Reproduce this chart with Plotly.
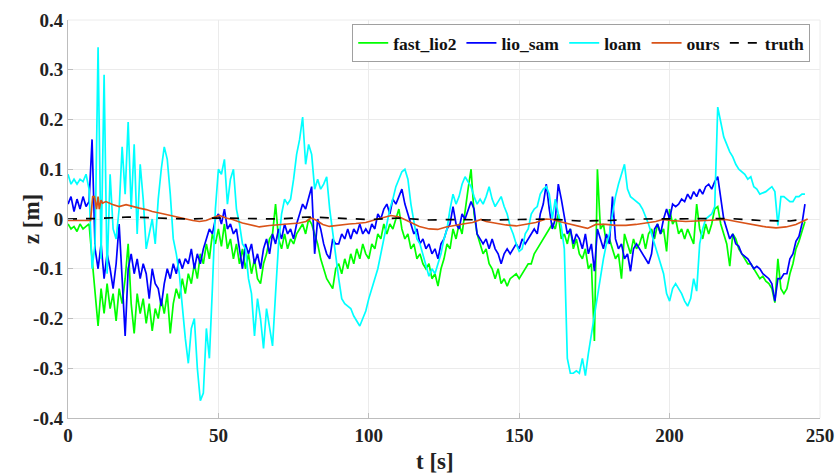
import numpy as np
import plotly.graph_objects as go

# time grid (s) for the noisy estimators: one sample per second
t_est = list(range(0, 246))

fast_lio2 = [
    -0.01, -0.02, -0.015, -0.025, -0.01, -0.02, -0.015, -0.01, -0.08, -0.15,
    -0.215, -0.14, -0.19, -0.13, -0.18, -0.15, -0.205, -0.14, -0.17, -0.12,
    -0.05, -0.17, -0.23, -0.15, -0.19, -0.16, -0.21, -0.17, -0.225, -0.18,
    -0.20, -0.16, -0.19, -0.15, -0.23, -0.17, -0.14, -0.16, -0.12, -0.15,
    -0.11, -0.13, -0.09, -0.12, -0.07, -0.09, -0.05, -0.08, -0.03, -0.05,
    -0.02, -0.055, -0.01, -0.06, -0.04, -0.08, -0.05, -0.09, -0.06, -0.10,
    -0.07, -0.11, -0.08, -0.12, -0.13, -0.09, -0.07, -0.04, -0.03, 0.03,
    -0.04, -0.06, -0.03, -0.06, -0.04, -0.05, -0.03, -0.02, -0.01, -0.03,
    0.0, -0.01, -0.03, -0.05, -0.08, -0.10, -0.12, -0.13, -0.14, -0.10,
    -0.09, -0.11, -0.08, -0.10, -0.07, -0.09, -0.06, -0.08, -0.05, -0.07,
    -0.08, -0.05, -0.06, -0.03, -0.04, -0.01, -0.03, -0.01, -0.02, 0.0,
    0.02, -0.02, -0.04, -0.03, -0.06, -0.05, -0.08, -0.07, -0.09, -0.10,
    -0.09, -0.12, -0.11, -0.135, -0.10, -0.08, -0.05, -0.06, -0.02, -0.04,
    -0.01, -0.03, 0.02, 0.06, 0.10, 0.01, -0.03, -0.05, -0.07, -0.06,
    -0.09, -0.10, -0.12, -0.10, -0.13, -0.12, -0.135, -0.12, -0.115, -0.11,
    -0.12, -0.11, -0.10, -0.09, -0.09, -0.07, -0.06, -0.05, -0.04, -0.03,
    -0.02, -0.01, -0.02, 0.01, -0.04, -0.03, -0.05, -0.02, -0.06, -0.04,
    -0.07, -0.08, -0.06, -0.10, -0.09, -0.245, 0.10, -0.02, -0.01, -0.05,
    -0.04, -0.06, -0.08, -0.07, -0.12, -0.03, -0.05, -0.07, -0.04, -0.06,
    -0.05, -0.03, -0.06, -0.03, -0.02, -0.04, -0.01, -0.03, -0.02, -0.065,
    0.02, -0.01, 0.0, -0.03, -0.02, -0.04, -0.02, -0.035, -0.05, 0.03,
    -0.02, -0.04, -0.01, -0.03, -0.01, 0.02, 0.025, -0.01, -0.03, -0.05,
    -0.095, -0.03, -0.04, -0.06, -0.07, -0.08, -0.09, -0.09, -0.10, -0.11,
    -0.12, -0.115, -0.125, -0.13, -0.14, -0.168, -0.08, -0.14, -0.15, -0.14,
    -0.11, -0.09, -0.06, -0.045, -0.025, -0.005,
]

lio_sam = [
    0.03, 0.045, 0.015, 0.04, 0.02, 0.045, 0.025, 0.035, 0.16, -0.06,
    -0.10, -0.05, -0.12, -0.07, -0.10, -0.14, -0.09, -0.01, -0.12, -0.235,
    -0.10, -0.07, -0.11, -0.08, -0.12, -0.09, -0.11, -0.16, -0.10, -0.13,
    -0.14, -0.175, -0.13, -0.10, -0.12, -0.09, -0.11, -0.08, -0.10, -0.08,
    -0.09, -0.06, -0.10, -0.07, -0.09, -0.06, -0.04, -0.02, -0.03, 0.0,
    0.01, -0.01, 0.02, -0.02, -0.01, -0.03, -0.02, -0.06, -0.10, -0.05,
    -0.07, -0.05, -0.09, -0.07, -0.10, -0.06, -0.04, -0.07, -0.03, -0.05,
    -0.02, -0.04, -0.01, -0.03, -0.02, -0.04, -0.01, 0.01, 0.03, 0.02,
    0.045, 0.065, -0.07, 0.0, -0.02, -0.05, -0.07, -0.08, -0.04, -0.05,
    -0.05, -0.03, -0.04, -0.02, -0.04, -0.02, -0.03, -0.01, -0.03, -0.02,
    -0.03, -0.01, -0.02, 0.01, 0.0, 0.02, 0.03, 0.01, 0.04, 0.03,
    0.045, 0.06, 0.03, 0.01, -0.01, -0.03, -0.02, -0.05, -0.04, -0.06,
    -0.05, -0.07, -0.06, -0.08, -0.05, -0.04, -0.02, -0.01, 0.025, -0.01,
    -0.02, 0.01, 0.0, 0.02, 0.035, 0.02, -0.03, -0.04, -0.05, -0.04,
    -0.06, -0.04, -0.06, -0.07, -0.09, -0.07, -0.06, -0.07, -0.06, -0.05,
    -0.06, -0.04, -0.05, -0.04, -0.03, -0.02, -0.03, 0.01, 0.03, 0.07,
    0.02, -0.02, 0.0, 0.07, 0.04, 0.0, -0.03, -0.02, -0.05, -0.03,
    -0.04, -0.06, -0.03, -0.07, -0.05, -0.105, -0.02, -0.04, -0.06, -0.03,
    -0.05, 0.045, -0.04, -0.06, -0.05, -0.08, -0.07, -0.105, -0.06, -0.05,
    -0.06, -0.07, -0.08, -0.09, -0.07, -0.02, -0.01, -0.03, 0.0, 0.02,
    0.0, 0.03, 0.025, 0.03, 0.04, 0.035, 0.05, 0.04, 0.055, 0.045,
    0.06, 0.05, 0.065, 0.07, 0.06, 0.075, 0.085, 0.04, 0.0, -0.02,
    -0.04, -0.03, -0.05, -0.055, -0.07, -0.075, -0.08, -0.09, -0.10, -0.095,
    -0.10, -0.11, -0.115, -0.12, -0.13, -0.165, -0.12, -0.12, -0.11, -0.11,
    -0.08, -0.07, -0.045, -0.035, -0.01, 0.03,
]

loam = [
    0.09, 0.07, 0.08, 0.07, 0.08, 0.075, 0.09, 0.06, -0.10, -0.05,
    0.345, -0.08, 0.29, -0.11, 0.09, -0.02, -0.04, 0.02, 0.145, 0.05,
    0.195, 0.02, 0.15, -0.03, 0.11, 0.04, -0.06, -0.03, 0.0, -0.05,
    0.04, 0.10, 0.145, 0.12, 0.05, -0.04, -0.07, -0.11, -0.18, -0.24,
    -0.29, -0.22, -0.20, -0.30, -0.365, -0.35, -0.22, -0.28, -0.14, 0.02,
    0.10, 0.09, 0.12, 0.03, 0.08, 0.10, 0.02, -0.01, -0.05, -0.06,
    -0.12, -0.15, -0.235, -0.16, -0.20, -0.26, -0.18, -0.22, -0.255, -0.15,
    -0.05, 0.01, 0.04, 0.03, 0.04, 0.08, 0.13, 0.16, 0.205, 0.11,
    0.15, 0.13, 0.06, 0.08, 0.06, 0.07, 0.085, 0.02, -0.03, -0.07,
    -0.12, -0.16, -0.17, -0.175, -0.18, -0.195, -0.205, -0.215, -0.20, -0.185,
    -0.16, -0.14, -0.12, -0.10, -0.07, -0.04, -0.01, 0.02, 0.04, 0.065,
    0.08, 0.095, 0.10, 0.08, 0.03, -0.01, -0.04, -0.05, -0.07, -0.09,
    -0.115, -0.10, -0.11, -0.09, -0.07, -0.04, -0.02, 0.02, 0.05, 0.03,
    0.045, 0.07, 0.085, 0.075, 0.065, 0.045, 0.03, 0.04, 0.03, 0.045,
    0.065, 0.04, 0.025, 0.035, 0.045, 0.025, 0.01, -0.015, -0.03, -0.05,
    -0.065, -0.06, -0.03, -0.02, 0.01, 0.02, 0.025, 0.05, 0.06, 0.065,
    0.05, 0.0, 0.04, 0.01, -0.015, -0.06, -0.28, -0.31, -0.31, -0.305,
    -0.31, -0.28, -0.315, -0.27, -0.23, -0.19, -0.15, -0.12, -0.08, -0.05,
    -0.03, 0.01, 0.045, 0.07, 0.09, 0.11, 0.06, 0.045, 0.04, 0.035,
    0.03, 0.02, 0.005, -0.01, -0.03, -0.05, -0.07, -0.09, -0.11, -0.15,
    -0.165, -0.14, -0.13, -0.14, -0.15, -0.165, -0.175, -0.16, -0.12, -0.145,
    -0.05, -0.02, 0.0, 0.005, 0.01, 0.025, 0.225, 0.195, 0.165, 0.15,
    0.135, 0.125, 0.11, 0.10, 0.095, 0.09, 0.08, 0.085, 0.065, 0.06,
    0.05, 0.052, 0.055, 0.06, 0.065, 0.055, -0.013, 0.045, 0.045, 0.04,
    0.035, 0.035, 0.045, 0.045, 0.05, 0.05,
]

ours_t = [0, 7.5, 8.2, 8.8, 9.5, 10, 10.4, 11, 11.5, 12.6, 14.8, 17, 19.3, 21.5,
          23.7, 26, 28, 30.4, 32.6, 34.8, 37, 39.2, 41.5, 43.7, 45.9, 48, 50.3,
          52.5, 54.7, 58, 60.3, 63.6, 67, 70.3, 73.6, 76.9, 79.1, 80.8, 82.4,
          84.7, 86.9, 89.1, 91.3, 93.5, 95.7, 97.9, 99, 102.4, 105.7, 107.4,
          110.2, 113.5, 116.8, 120.1, 122.9, 125.7, 129, 132.3, 134.5, 137.3,
          139, 142.3, 145.6, 149, 152.2, 155.5, 158.9, 161.1, 163.3, 166.6,
          168.8, 171, 172.7, 175.5, 178.8, 182.1, 185.5, 188.8, 192.1, 195.4,
          197.7, 200.4, 205.4, 212.1, 215.4, 218.7, 222.1, 225.4, 228.7, 232,
          235.4, 238.7, 242, 244.2, 245.9]
ours = [-0.003, -0.003, 0.045, 0.045, 0.02, 0.045, 0.02, 0.038, 0.032, 0.035,
        0.029, 0.025, 0.029, 0.025, 0.022, 0.019, 0.015, 0.012, 0.009, 0.005,
        0.002, 0.0, -0.003, -0.005, -0.003, 0.002, 0.007, 0.002, -0.001, -0.008,
        -0.011, -0.016, -0.013, -0.011, -0.010, -0.008, -0.005, 0.002, -0.002,
        -0.011, -0.015, -0.013, -0.011, -0.010, -0.009, -0.008, -0.007, -0.001,
        0.004, 0.007, 0.004, -0.005, -0.015, -0.020, -0.021, -0.016, -0.012,
        -0.009, -0.007, -0.001, -0.005, -0.009, -0.012, -0.014, -0.011, -0.007,
        0.0, -0.001, -0.005, -0.010, -0.013, -0.016, -0.019, -0.011, -0.011,
        -0.013, -0.013, -0.011, -0.008, -0.005, -0.001, -0.003, -0.005, -0.003,
        -0.001, -0.001, -0.005, -0.009, -0.013, -0.016, -0.018, -0.016, -0.011,
        -0.005, 0.0]

truth_t = [0, 10, 20, 30, 40, 50, 60, 70, 80, 90, 100, 110, 120, 130, 140, 150,
           160, 170, 180, 190, 200, 210, 220, 230, 240, 245]
truth = [0.0, 0.001, 0.004, 0.002, 0.0, 0.002, 0.001, 0.0, 0.004, 0.001, -0.001,
         0.002, -0.002, -0.001, -0.002, -0.001, 0.0, -0.004, -0.003, 0.0, 0.0,
         0.001, 0.001, -0.003, -0.004, 0.0]

x_ticks = [0, 50, 100, 150, 200, 250]
x_ticklabels = ["0", "50", "100", "150", "200", "250"]
y_ticks = [0.4, 0.3, 0.2, 0.1, 0, -0.1, -0.2, -0.3, -0.4]
y_ticklabels = ["0.4", "0.3", "0.2", "0.1", "0", "-0.1", "-0.2", "-0.3", "-0.4"]
x_title = "t [s]"
y_title = "z [m]"

FONT = "Liberation Serif, Times New Roman, serif"
LW = 1.7

fig = go.Figure()
fig.add_trace(go.Scatter(x=t_est, y=fast_lio2, mode="lines", name="fast_lio2",
                         line=dict(color="#00ff00", width=LW)))
fig.add_trace(go.Scatter(x=t_est, y=lio_sam, mode="lines", name="lio_sam",
                         line=dict(color="#0000ff", width=LW)))
fig.add_trace(go.Scatter(x=t_est, y=loam, mode="lines", name="loam",
                         line=dict(color="#00ffff", width=LW)))
fig.add_trace(go.Scatter(x=ours_t, y=ours, mode="lines", name="ours",
                         line=dict(color="#d95319", width=LW)))
fig.add_trace(go.Scatter(x=truth_t, y=truth, mode="lines", name="truth",
                         line=dict(color="#000000", width=LW, dash="dash")))

title_font = dict(family=FONT, size=23, color="#222222", weight="bold")
fig.update_layout(
    width=835, height=473,
    margin=dict(l=68, r=15, t=20, b=55),
    paper_bgcolor="white", plot_bgcolor="white",
    font=dict(family=FONT, color="#222222"),
    showlegend=True,
    legend=dict(orientation="h", x=0.987, y=0.99, xanchor="right", yanchor="top",
                bgcolor="white", bordercolor="#a0a0a0", borderwidth=1,
                font=dict(family=FONT, size=17.5, color="#111111", weight="bold"),
                itemwidth=30, tracegroupgap=0),
    annotations=[
        dict(text=x_title, xref="paper", yref="paper", x=0.488, y=-0.11,
             xanchor="center", yanchor="middle", showarrow=False, font=title_font),
        dict(text=y_title, xref="paper", yref="paper", x=-0.049, y=0.5,
             xanchor="center", yanchor="middle", textangle=-90, showarrow=False,
             font=title_font),
    ],
)
fig.update_xaxes(
    range=[0, 250], tickvals=x_ticks, ticktext=x_ticklabels,
    showgrid=True, gridcolor="#ebebeb", gridwidth=1, zeroline=False,
    showline=True, linecolor="#bdbdbd", linewidth=1,
    ticks="inside", ticklen=5, tickcolor="#bdbdbd",
    tickfont=dict(family=FONT, size=19, color="#222222", weight="bold"),
    automargin=False,
)
fig.update_yaxes(
    range=[-0.4, 0.4], tickvals=y_ticks, ticktext=y_ticklabels,
    showgrid=True, gridcolor="#ebebeb", gridwidth=1, zeroline=False,
    showline=True, linecolor="#bdbdbd", linewidth=1,
    ticks="inside", ticklen=5, tickcolor="#bdbdbd",
    tickfont=dict(family=FONT, size=19, color="#222222", weight="bold"),
    automargin=False,
)
# faint top and right box edges
fig.add_shape(type="line", xref="paper", yref="paper", x0=0, x1=1, y0=1, y1=1,
              line=dict(color="#ececec", width=1))
fig.add_shape(type="line", xref="paper", yref="paper", x0=1, x1=1, y0=0, y1=1,
              line=dict(color="#ececec", width=1))

fig.write_html("out.html")
